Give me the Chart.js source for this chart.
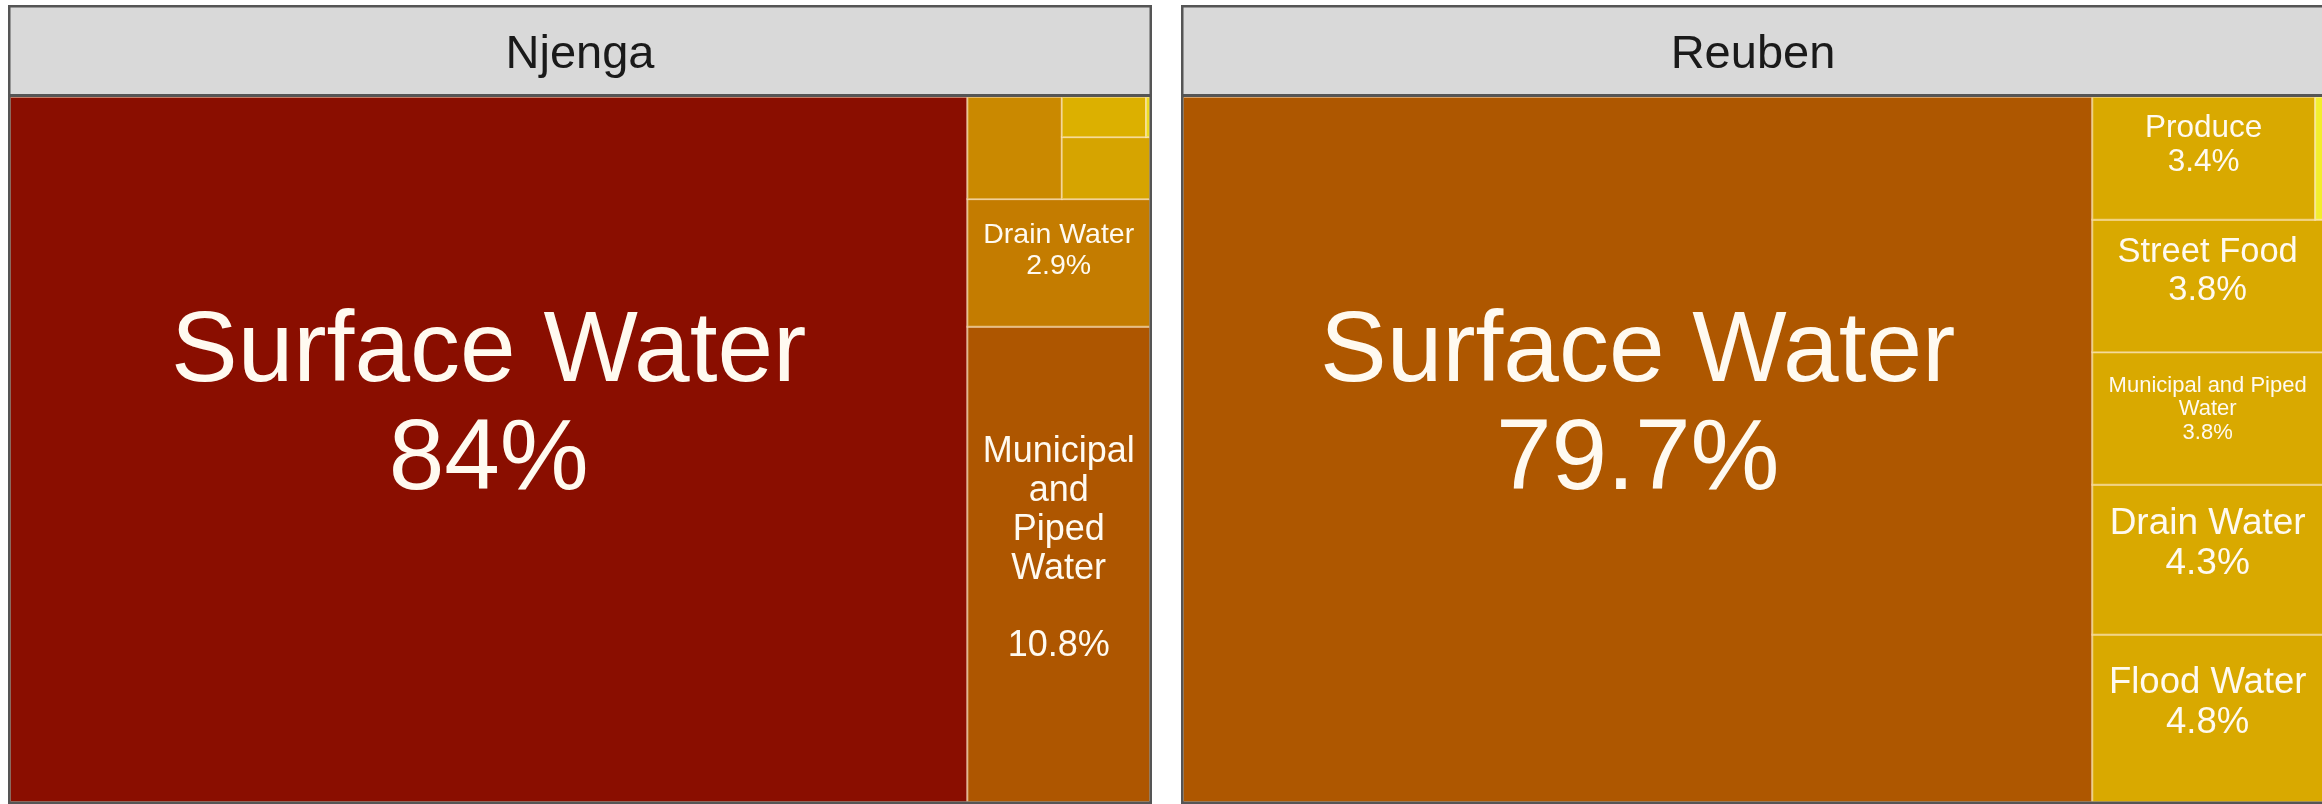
<!DOCTYPE html>
<html>
<head>
<meta charset="utf-8">
<title>Exposure pathways treemap</title>
<script src="https://cdn.jsdelivr.net/npm/chart.js@4.4.1/dist/chart.umd.min.js"></script>
<style>
  html, body { margin: 0; padding: 0; background: #fff; overflow: hidden; width: 2322px; height: 804px; }
  canvas { position: absolute; top: 5px; }
  #njengaChart { left: 8px; }
  #reubenChart { left: 1181px; }
</style>
</head>
<body>
<canvas id="njengaChart" width="1144" height="799"></canvas>
<canvas id="reubenChart" width="1144" height="799"></canvas>
<script>
// ── Data ───────────────────────────────────────────────────────────────────
const njengaLabels = ['Surface Water', 'Municipal\nand\nPiped\nWater\n', 'Drain Water', 'Flood Water', 'Street Food', 'Produce', 'Other'];
const njengaValues = [84, 10.8, 2.9, 1.2, 0.68, 0.42, 0.02];

const reubenLabels = ['Surface Water', 'Flood Water', 'Drain Water', 'Municipal and Piped\nWater', 'Street Food', 'Produce', 'Other'];
const reubenValues = [79.7, 4.8, 4.3, 3.8, 3.8, 3.4, 0.12];

// ── Styling ────────────────────────────────────────────────────────────────
const FONT = '"Liberation Sans", Arial, Helvetica, sans-serif';
const njengaColors = ['#8a0e00', '#ae5600', '#c47c00', '#ca8900', '#d6a400', '#dcb000', '#eedd22'];
const njengaFontSizes = [100, 36, 28.5, 0, 0, 0, 0];   // 0 = no label
const reubenColors = ['#ae5700', '#d9a900', '#d9a900', '#d9a900', '#d9a900', '#d9a900', '#f3ee2c'];
const reubenFontSizes = [100, 36.5, 37, 22, 34.5, 31.5, 0];

// ── Squarified layout (rows laid from the bottom-left corner) ──────────────
function worst(row, side) {
  const sum = row.reduce((s, d) => s + d.a, 0);
  let w = 0;
  row.forEach(d => {
    w = Math.max(w, (side * side * d.a) / (sum * sum), (sum * sum) / (side * side * d.a));
  });
  return w;
}

function squarify(values, width, height) {
  const total = values.reduce((a, b) => a + b, 0);
  let rest = values
    .map((v, i) => ({ i, a: v / total * width * height }))
    .sort((p, q) => q.a - p.a);
  let r = { x: 0, y: 0, w: width, h: height };
  const cells = [];

  while (rest.length) {
    const side = Math.min(r.w, r.h);
    const row = [rest[0]];
    let k = 1;
    while (k < rest.length && worst(row.concat(rest[k]), side) <= worst(row, side)) {
      row.push(rest[k]);
      k++;
    }
    rest = rest.slice(k);
    const sum = row.reduce((s, d) => s + d.a, 0);

    if (r.w >= r.h) {
      // column on the left
      const cw = sum / r.h;
      let y = r.y;
      row.forEach(d => { const h = d.a / cw; cells.push({ i: d.i, x: r.x, y, w: cw, h }); y += h; });
      r = { x: r.x + cw, y: r.y, w: r.w - cw, h: r.h };
    } else {
      // row along the bottom
      const rh = sum / r.w;
      let x = r.x;
      row.forEach(d => { const w = d.a / rh; cells.push({ i: d.i, x, y: r.y, w, h: rh }); x += w; });
      r = { x: r.x, y: r.y + rh, w: r.w, h: r.h - rh };
    }
  }
  return cells;
}

// ── Plugin: header box, treemap cells, labels, panel frame ─────────────────
const treemapPlugin = {
  id: 'treemapPanel',

  beforeDraw(chart) {
    const { ctx, chartArea, width } = chart;
    ctx.save();
    ctx.fillStyle = '#d9d9d9';
    ctx.fillRect(0, 0, width, chartArea.top);
    ctx.restore();
  },

  afterDatasetsDraw(chart) {
    const { ctx, chartArea, scales } = chart;
    const ds = chart.data.datasets[0];
    const aspect = chartArea.width / chartArea.height;
    const cells = squarify(ds.treeValues, aspect, 1);

    ctx.save();
    cells.forEach(c => {
      const x0 = scales.x.getPixelForValue(c.x / aspect);
      const x1 = scales.x.getPixelForValue((c.x + c.w) / aspect);
      const yb = scales.y.getPixelForValue(c.y);
      const yt = scales.y.getPixelForValue(c.y + c.h);
      ctx.fillStyle = ds.treeColors[c.i];
      ctx.fillRect(x0, yt, x1 - x0, yb - yt);
      ctx.strokeStyle = 'rgba(255,236,205,0.5)';
      ctx.lineWidth = 2;
      ctx.strokeRect(x0, yt, x1 - x0, yb - yt);
    });

    ctx.fillStyle = '#fffaf0';
    ctx.textAlign = 'center';
    ctx.textBaseline = 'middle';
    cells.forEach(c => {
      const size = ds.treeFontSizes[c.i];
      if (!size) return;
      const x0 = scales.x.getPixelForValue(c.x / aspect);
      const x1 = scales.x.getPixelForValue((c.x + c.w) / aspect);
      const yb = scales.y.getPixelForValue(c.y);
      const yt = scales.y.getPixelForValue(c.y + c.h);
      const pct = +ds.treeValues[c.i].toFixed(1) + '%';
      const lines = (ds.treeLabels[c.i] + '\n' + pct).split('\n');
      const lh = size * 1.08;
      const cy = (yt + yb) / 2 - size * 0.42;
      const top = cy - (lines.length - 1) * lh / 2;
      ctx.font = size + 'px ' + FONT;
      lines.forEach((t, k) => ctx.fillText(t, (x0 + x1) / 2, top + k * lh));
    });
    ctx.restore();
  },

  afterDraw(chart) {
    const { ctx, chartArea, width, height } = chart;
    ctx.save();
    ctx.strokeStyle = '#555';
    ctx.lineWidth = 3;
    ctx.beginPath();
    ctx.moveTo(0, chartArea.top - 1.5);
    ctx.lineTo(width, chartArea.top - 1.5);
    ctx.stroke();
    ctx.lineWidth = 2.5;
    ctx.strokeRect(1.25, 1.25, width - 2.5, height - 2.5);
    ctx.restore();
  }
};

function buildPanel(id, title, labels, values, colors, fontSizes) {
  return new Chart(document.getElementById(id), {
    type: 'scatter',
    data: {
      datasets: [{
        label: title,
        data: [],
        treeLabels: labels,
        treeValues: values,
        treeColors: colors,
        treeFontSizes: fontSizes
      }]
    },
    options: {
      responsive: false,
      animation: false,
      devicePixelRatio: 1,
      layout: { padding: { left: 2, right: 2, top: 0, bottom: 2 } },
      scales: {
        x: { type: 'linear', min: 0, max: 1, display: false },
        y: { type: 'linear', min: 0, max: 1, display: false }
      },
      plugins: {
        legend: { display: false },
        tooltip: { enabled: false },
        title: {
          display: true,
          text: title,
          color: '#1a1a1a',
          font: { family: FONT, size: 47, weight: 'normal', lineHeight: 1.2 },
          padding: { top: 21.5, bottom: 14.1 }
        }
      }
    },
    plugins: [treemapPlugin]
  });
}

buildPanel('njengaChart', 'Njenga', njengaLabels, njengaValues, njengaColors, njengaFontSizes);
buildPanel('reubenChart', 'Reuben', reubenLabels, reubenValues, reubenColors, reubenFontSizes);
</script>
</body>
</html>
